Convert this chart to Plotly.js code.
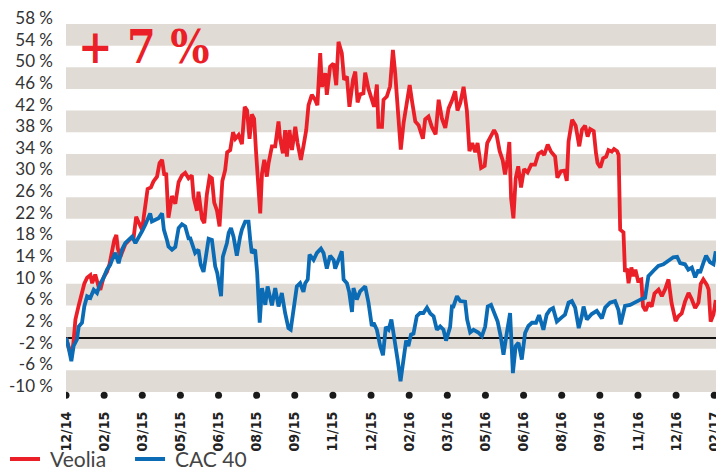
<!DOCTYPE html>
<html>
<head>
<meta charset="utf-8">
<script src="https://cdn.plot.ly/plotly-3.0.1.min.js"></script>
<style>html,body{margin:0;padding:0;background:#fff}#chart{width:716px;height:472px}</style>
</head>
<body>
<div id="chart"></div>
<script>
// x: months since end of December 2014; y: performance in %
const tickLabels = ['12/14','02/15','03/15','05/15','06/15','08/15','09/15','11/15','12/15','02/16','03/16','05/16','06/16','08/16','09/16','11/16','12/16','02/17'];
const tickMonths = [0,1.5,3,4.5,6,7.5,9,10.5,12,13.5,15,16.5,18,19.5,21,22.5,24,25.5];
const yTicks = [-10,-6,-2,2,6,10,14,18,22,26,30,34,38,42,46,50,54,58];

const veoliaX = [0,0.13,0.21,0.29,0.37,0.50,0.63,0.72,0.83,0.96,1.03,1.15,1.28,1.35,1.48,1.61,1.71,1.81,1.90,1.98,2.04,2.14,2.33,2.53,2.66,2.76,2.85,2.99,3.06,3.14,3.21,3.34,3.44,3.58,3.68,3.78,3.87,3.94,4.03,4.17,4.30,4.43,4.56,4.69,4.82,4.89,4.95,5.02,5.15,5.21,5.35,5.44,5.54,5.65,5.74,5.83,5.94,6.04,6.15,6.26,6.34,6.46,6.57,6.66,6.79,6.92,7.03,7.12,7.22,7.31,7.40,7.48,7.57,7.64,7.71,7.80,7.90,7.97,8.10,8.23,8.36,8.43,8.53,8.62,8.69,8.79,8.89,9.02,9.11,9.24,9.34,9.45,9.54,9.67,9.80,9.89,10.00,10.07,10.20,10.26,10.39,10.52,10.63,10.72,10.85,10.94,11.05,11.15,11.29,11.38,11.47,11.57,11.70,11.77,11.90,12.03,12.12,12.23,12.29,12.43,12.49,12.62,12.75,12.86,12.95,13.08,13.17,13.28,13.40,13.52,13.62,13.74,13.87,14.04,14.13,14.26,14.39,14.54,14.66,14.79,14.92,15.05,15.18,15.31,15.40,15.51,15.64,15.77,15.87,15.98,16.10,16.19,16.33,16.47,16.57,16.72,16.84,16.94,17.06,17.18,17.27,17.37,17.44,17.51,17.60,17.69,17.79,17.90,18.02,18.16,18.30,18.45,18.58,18.71,18.81,18.95,19.08,19.24,19.33,19.47,19.61,19.70,19.77,19.91,20.05,20.19,20.30,20.42,20.52,20.62,20.76,20.85,20.91,21.02,21.13,21.25,21.34,21.47,21.56,21.68,21.74,21.80,21.93,21.99,22.07,22.13,22.24,22.32,22.40,22.50,22.63,22.70,22.80,22.92,23.04,23.15,23.31,23.44,23.57,23.70,23.82,23.98,24.09,24.22,24.35,24.49,24.62,24.75,24.88,24.97,25.07,25.21,25.28,25.36,25.47,25.56];
const veoliaY = [0,-2.5,-3.5,-1.0,3.4,6.0,8.3,10.0,11.1,11.6,10.1,11.7,9.5,8.9,11.2,12.2,13.6,16.0,18.1,19.0,16.5,15.0,17.3,18.3,18.5,22.4,21.5,20.0,22.4,25.5,27.5,27.8,28.9,29.8,32.3,32.9,30.0,30.5,22.2,26.2,24.8,28.8,30.0,30.5,29.5,29.8,30.0,26.0,23.5,27.0,22.0,21.2,26.5,29.8,29.5,25.0,23.5,20.6,29.0,31.0,34.3,34.7,38.0,36.8,37.5,35.8,42.7,42.1,36.8,41.3,40.5,34.1,28.5,23.0,30.4,32.9,29.8,32.3,35.4,35.4,40.0,36.6,34.1,38.4,33.5,38.4,34.7,39.0,36.0,32.9,35.4,38.4,43.0,44.9,44.0,43.0,52.6,46.4,48.9,44.9,50.1,50.7,46.7,54.7,52.6,47.7,48.3,42.7,47.7,49.2,43.5,45.0,45.2,49.0,46.0,44.3,42.7,46.8,39.0,39.0,44.0,44.6,46.5,53.2,48.9,40.5,34.8,39.7,43.5,46.7,43.5,40.0,39.3,36.8,40.4,40.9,39.0,37.6,44.0,40.5,38.8,42.4,43.8,45.6,42.0,43.4,46.4,42.0,34.5,36.0,34.3,36.0,31.4,31.8,36.0,37.3,38.4,37.5,34.5,32.8,30.2,33.0,36.2,25.8,22.1,29.5,31.7,27.8,31.2,30.6,32.0,32.0,34.0,34.4,33.8,35.7,34.4,33.5,29.6,30.8,30.9,29.0,36.3,40.3,39.2,35.4,38.5,39.2,37.2,38.6,38.2,34.1,32.3,31.5,33.2,33.5,34.7,34.4,34.9,34.5,33.8,20.0,19.5,12.2,12.8,10.1,13.0,11.4,12.6,10.6,10.8,5.8,5.0,6.5,5.8,8.2,8.9,7.7,9.0,10.8,6.5,3.1,4.0,4.5,6.7,8.3,7.1,5.5,6.5,10.0,10.8,9.8,8.9,3.0,4.3,7.0];

const cacX = [0,0.09,0.21,0.30,0.43,0.50,0.63,0.72,0.83,0.96,1.09,1.22,1.35,1.48,1.61,1.74,1.81,1.94,2.07,2.20,2.33,2.46,2.60,2.73,2.85,2.99,3.12,3.25,3.31,3.38,3.51,3.64,3.78,3.85,3.97,4.03,4.17,4.30,4.43,4.56,4.69,4.82,4.89,4.97,5.08,5.21,5.30,5.41,5.52,5.61,5.74,5.81,5.87,5.95,6.10,6.17,6.33,6.40,6.49,6.59,6.72,6.85,6.92,7.05,7.18,7.25,7.31,7.44,7.52,7.62,7.71,7.84,7.93,8.10,8.23,8.36,8.49,8.62,8.75,8.84,8.95,9.08,9.21,9.34,9.41,9.51,9.58,9.74,9.87,10.03,10.13,10.26,10.39,10.53,10.59,10.72,10.85,10.92,11.05,11.14,11.25,11.31,11.44,11.57,11.77,11.90,12.03,12.10,12.23,12.36,12.47,12.58,12.69,12.80,12.87,12.95,13.05,13.16,13.21,13.28,13.38,13.47,13.57,13.67,13.80,13.93,14.06,14.20,14.33,14.46,14.59,14.72,14.85,14.95,15.05,15.11,15.18,15.24,15.38,15.51,15.70,15.78,15.90,16.03,16.22,16.36,16.49,16.59,16.72,16.84,16.98,17.10,17.21,17.34,17.47,17.58,17.69,17.80,17.86,17.93,18.06,18.19,18.33,18.49,18.61,18.78,18.91,19.04,19.16,19.31,19.50,19.63,19.77,19.90,20.03,20.17,20.29,20.36,20.49,20.68,20.88,21.08,21.21,21.40,21.60,21.73,21.82,21.99,22.19,22.45,22.65,22.78,22.91,23.11,23.30,23.50,23.70,23.89,24.04,24.16,24.35,24.48,24.62,24.75,24.88,24.94,25.07,25.18,25.33,25.47,25.56];
const cacY = [0,-1.5,-4.3,-1.5,-0.3,2.1,2.8,5.8,7.7,7.4,8.9,8.3,10.1,11.1,12.6,13.5,14.4,15.7,13.8,16.3,17.5,18.1,18.7,17.5,18.4,19.7,20.9,22.5,23.0,21.5,21.8,22.1,23.0,20.0,18.1,16.9,16.3,16.8,20.3,21.0,20.6,18.4,18.4,17.0,15.7,16.3,13.5,12.2,15.5,18.3,18.1,14.4,13.2,12.0,7.7,15.0,17.5,19.4,20.3,18.7,15.2,18.7,20.0,21.5,21.5,18.0,15.7,16.3,12.0,2.8,9.2,6.1,9.5,6.0,9.2,5.8,8.3,4.6,1.8,1.5,5.8,9.5,10.1,8.5,10.1,10.8,15.4,14.4,15.7,16.5,15.7,12.8,15.2,14.4,12.8,14.4,16.0,10.8,10.1,8.5,4.8,9.2,7.1,8.6,9.5,6.5,2.2,2.8,1.5,-1.5,-3.2,2.0,1.5,3.4,0.9,-1.4,-4.2,-8.0,-6.5,-3.4,-0.5,-1.5,0.6,0.8,4.0,4.6,4.6,5.6,4.5,4.0,1.5,2.1,1.5,-0.5,0.9,2.0,5.8,5.8,7.7,6.8,6.7,3.4,1.0,1.5,1.0,0.3,2.1,5.8,6.1,4.6,3.0,0.3,-3.1,0.9,4.6,-6.5,-1.5,-0.9,-2.8,-4.0,0.9,2.2,2.8,2.8,4.2,1.5,4.3,5.2,5.5,3.0,3.8,4.3,6.5,6.8,5.6,1.8,4.0,5.8,3.4,4.4,5.0,3.6,5.6,6.5,6.8,5.2,2.5,5.9,6.1,6.8,7.2,7.4,11.4,12.4,13.3,13.6,14.2,14.9,15.0,13.8,13.6,12.6,13.0,11.2,12.6,12.0,13.8,15.2,14.0,13.6,16.0];

const seriesNames = ['Veolia', 'CAC 40'];
const RED = '#ea1f28';
const BLUE = '#0b6bb4';
const BAND = '#e0dbd4';
const seriesColors = [RED, BLUE];

const shapes = [];
for (let i = 0; i + 1 < yTicks.length; i += 2) {
  shapes.push({type:'rect', xref:'paper', x0:0, x1:1, yref:'y', y0:yTicks[i], y1:yTicks[i+1],
               fillcolor:BAND, line:{width:0}, layer:'below'});
}
// tick dots under the axis
tickMonths.forEach(m => {
  shapes.push({type:'circle', xref:'x', yref:'paper', xsizemode:'pixel', ysizemode:'pixel',
               xanchor:m, yanchor:-0.009, x0:-3.5, x1:3.5, y0:-3.5, y1:3.5,
               fillcolor:'#1a1a1a', line:{width:0}, layer:'above'});
});

// legend drawn below the chart (line sample + label)
const legendY = -0.182;
const legendStarts = [-0.0862, 0.1062];
const annotations = [{text: '<b>+ 7 %</b>', xref: 'paper', yref: 'paper', x: 0.015, y: 1.015,
                 xanchor: 'left', yanchor: 'top', showarrow: false,
                 font: {family: 'DejaVu Serif Condensed, DejaVu Serif, serif', size: 46, color: RED}}];
seriesNames.forEach((name, i) => {
  shapes.push({type:'line', xref:'paper', yref:'paper', x0:legendStarts[i], x1:legendStarts[i] + 0.0462,
               y0:legendY, y1:legendY, line:{color:seriesColors[i], width:4}});
  annotations.push({text: name, xref:'paper', yref:'paper', x: legendStarts[i] + 0.06, y: legendY,
                    xanchor:'left', yanchor:'middle', showarrow:false, borderpad:0,
                    font:{family:'Lato, sans-serif', size:21, color:'#444'}});
});

const data = [
  {x: veoliaX, y: veoliaY, name: seriesNames[0], type: 'scatter', mode: 'lines',
   line: {color: RED, width: 3.8}, hoverinfo: 'skip'},
  {x: cacX, y: cacY, name: seriesNames[1], type: 'scatter', mode: 'lines',
   line: {color: BLUE, width: 3.8}, hoverinfo: 'skip'}
];

const layout = {
  width: 716, height: 472,
  margin: {l: 66, r: 0, t: 24, b: 80, pad: 0, autoexpand: false},
  paper_bgcolor: '#ffffff', plot_bgcolor: '#ffffff',
  showlegend: false,
  xaxis: {range: [0, 25.57], tickvals: tickMonths, ticktext: tickLabels.map(t => '<b>' + t + '</b>'), tickangle: -90,
          showgrid: false, zeroline: false, showline: false, ticks: '',
          ticklabelstandoff: 16, ticklabeloverflow: 'allow',
          tickfont: {family: 'DejaVu Sans Condensed, DejaVu Sans, sans-serif', size: 14, color: '#222'},
          fixedrange: true},
  yaxis: {range: [-10, 58], tickvals: yTicks, ticktext: yTicks.map(v => v + ' %'),
          showgrid: false, zeroline: true, zerolinecolor: '#111', zerolinewidth: 2.5,
          showline: false, ticks: '', ticklabelstandoff: 12, ticklabelshift: -6,
          tickfont: {family: 'Lato, sans-serif', size: 17, color: '#333'}, fixedrange: true},
  shapes: shapes,
  annotations: annotations
};

Plotly.newPlot('chart', data, layout, {displayModeBar: false, staticPlot: true});
</script>
</body>
</html>
